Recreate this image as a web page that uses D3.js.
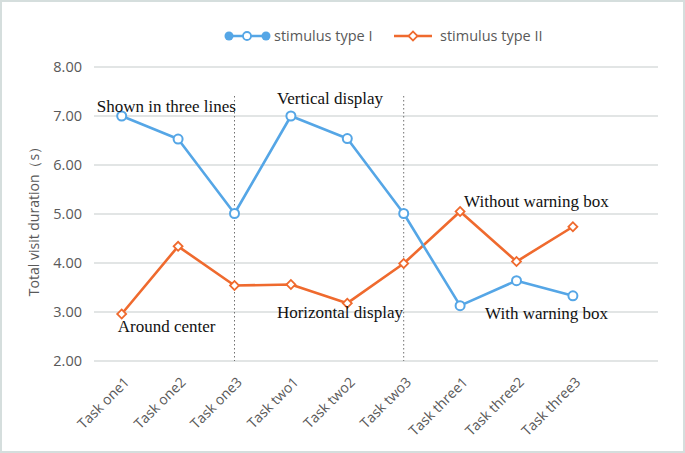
<!DOCTYPE html>
<html><head><meta charset="utf-8">
<script src="https://cdn.jsdelivr.net/npm/d3@7"></script>
<style>body{margin:0;background:#fff}svg{display:block}</style>
</head><body>
<script>
const categories = ["Task one1","Task one2","Task one3","Task two1","Task two2","Task two3","Task three1","Task three2","Task three3"];
const typeI = [7.00, 6.53, 5.01, 7.00, 6.54, 5.01, 3.13, 3.64, 3.33];
const typeII = [2.96, 4.34, 3.54, 3.56, 3.18, 3.99, 5.05, 4.03, 4.74];
const yTicks = [2, 3, 4, 5, 6, 7, 8];
const seriesNames = ["stimulus type I", "stimulus type II"];
const separators = ["Task one3", "Task two3"];
const annotations = [
  {text: "Shown in three lines", cat: "Task one1", val: 7.09, dx: -25},
  {text: "Vertical display", cat: "Task two1", val: 7.25, dx: -14},
  {text: "Around center", cat: "Task one1", val: 2.6, dx: -4},
  {text: "Horizontal display", cat: "Task two1", val: 2.87, dx: -14},
  {text: "Without warning box", cat: "Task three1", val: 5.15, dx: 4},
  {text: "With warning box", cat: "Task three1", val: 2.86, dx: 25}
];

const W = 685, H = 453;
const svg = d3.select("body").append("svg").attr("width", W).attr("height", H);
svg.append("rect").attr("x",1).attr("y",1).attr("width",W-2).attr("height",H-2)
  .attr("fill","#fff").attr("stroke","#d5dedd").attr("stroke-width",2);

const x = d3.scaleBand().domain([...categories, "_"]).range([94, 658]);
const cx = c => x(c) + x.bandwidth()/2 - 0.5;
const y = d3.scaleLinear().domain([2, 8]).range([361, 67]);

const grey = "#595959";
// grid
svg.append("g").selectAll("line").data(yTicks).join("line")
  .attr("x1", 94).attr("x2", 658).attr("y1", d=>y(d)).attr("y2", d=>y(d))
  .attr("stroke", "#d9dcdc").attr("stroke-width", 1.3);
// y axis labels
const ya = svg.append("g").attr("transform","translate(82,0)")
  .call(d3.axisLeft(y).tickValues(yTicks).tickFormat(d3.format(".2f")).tickSize(0).tickPadding(0));
ya.select(".domain").remove();
ya.selectAll("text").attr("fill", grey).attr("font-family","'Open Sans', 'DejaVu Sans', sans-serif").attr("font-size", 14.5);

// y title
svg.append("text").attr("transform","translate(39,218) rotate(-90)").attr("text-anchor","middle")
  .attr("fill", grey).attr("font-family","'Open Sans', sans-serif").attr("font-size",14)
  .text("Total visit duration（s）");

// x labels
const xa = svg.append("g").attr("transform","translate(0,361)")
  .call(d3.axisBottom(x).tickValues(categories).tickSize(0).tickPadding(0));
xa.select(".domain").remove();
xa.selectAll("text").attr("fill", grey).attr("font-family","'Open Sans', sans-serif").attr("font-size",14)
  .attr("text-anchor","end").attr("dy", 0).attr("transform","translate(8,22) rotate(-45)");

// separators
svg.append("g").selectAll("line").data(separators).join("line")
  .attr("x1", d=>cx(d)).attr("x2", d=>cx(d)).attr("y1", 96).attr("y2", 361)
  .attr("stroke", "#707070").attr("stroke-width", 1).attr("stroke-dasharray","1.5,2.5");

const blue = "#55a6e6", orange = "#ef6a2e";
const line = d3.line().x((d,i)=>cx(categories[i])).y(d=>y(d));
svg.append("path").datum(typeII).attr("d", line).attr("fill","none").attr("stroke",orange).attr("stroke-width",2.6).attr("stroke-linejoin","round");
svg.append("path").datum(typeI).attr("d", line).attr("fill","none").attr("stroke",blue).attr("stroke-width",2.6).attr("stroke-linejoin","round");

const diamond = d3.symbol().type(d3.symbolSquare).size(40);
svg.append("g").selectAll("path").data(typeII).join("path")
  .attr("d", diamond).attr("transform",(d,i)=>`translate(${cx(categories[i])},${y(d)}) rotate(45)`)
  .attr("fill","#fff").attr("stroke",orange).attr("stroke-width",1.8);
svg.append("g").selectAll("circle").data(typeI).join("circle")
  .attr("cx",(d,i)=>cx(categories[i])).attr("cy", d=>y(d)).attr("r",4.5)
  .attr("fill","#fff").attr("stroke",blue).attr("stroke-width",2);

// annotations
svg.append("g").selectAll("text").data(annotations).join("text")
  .attr("x", d=>cx(d.cat)+d.dx).attr("y", d=>y(d.val))
  .attr("font-family","'Liberation Serif', 'Times New Roman', serif").attr("font-size",17).attr("fill","#111")
  .text(d=>d.text);

// legend
const lg = svg.append("g").attr("font-family","'Open Sans', sans-serif").attr("font-size",14.5).attr("fill",grey);
lg.append("line").attr("x1",226).attr("x2",268).attr("y1",36).attr("y2",36).attr("stroke",blue).attr("stroke-width",2.6);
[229,266].forEach(px=>lg.append("circle").attr("cx",px).attr("cy",36).attr("r",4.5).attr("fill",blue));
lg.append("circle").attr("cx",247).attr("cy",36).attr("r",4).attr("fill","#fff").attr("stroke",blue).attr("stroke-width",1.8);
lg.append("text").attr("x",274).attr("y",41).text(seriesNames[0]);
lg.append("line").attr("x1",394).attr("x2",432).attr("y1",36).attr("y2",36).attr("stroke",orange).attr("stroke-width",2.6);
lg.append("path").attr("d",diamond).attr("transform","translate(413,36) rotate(45)").attr("fill","#fff").attr("stroke",orange).attr("stroke-width",1.8);
lg.append("text").attr("x",440).attr("y",41).text(seriesNames[1]);
</script>
</body></html>
